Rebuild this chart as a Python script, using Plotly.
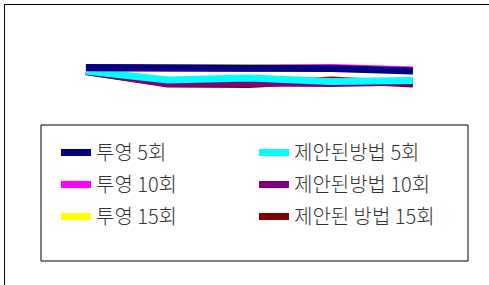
import plotly.graph_objects as go

frames = [1, 2, 3, 4, 5]

proj5 = [41.75, 41.75, 41.75, 41.65, 41.40]
proj10 = [41.70, 41.65, 41.65, 41.75, 41.50]
proj15 = [41.75, 41.70, 41.70, 41.70, 41.45]
prop5 = [41.40, 40.50, 40.70, 40.35, 40.45]
prop10 = [41.35, 40.15, 40.20, 40.15, 40.30]
prop15 = [41.35, 40.10, 40.05, 40.50, 40.10]

names = ["투영 5회", "투영 10회", "투영 15회", "제안된방법 5회", "제안된방법 10회", "제안된 방법 15회"]
colors = ["#000080", "#FF00FF", "#FFFF00", "#00FFFF", "#800080", "#800000"]
series = [proj5, proj10, proj15, prop5, prop10, prop15]
legends = ["legend", "legend", "legend", "legend2", "legend2", "legend2"]
ranks = [1, 2, 3, 1, 2, 3]

draw_order = [5, 4, 3, 2, 1, 0]

fig = go.Figure()
for i in draw_order:
    fig.add_trace(go.Scatter(
        x=frames, y=series[i], mode="lines", name=names[i],
        line=dict(color=colors[i], width=7),
        legend=legends[i], legendrank=ranks[i], legendgroup=names[i],
    ))

W, H = 489, 285
L, T = 5, 5
pw, ph = W - L, H - T

def px(x):
    return (x - L) / pw

def py(y):
    return 1 - (y - T) / ph

font = dict(family="Noto Sans CJK KR", size=20, color="#333333", weight=300)

fig.update_layout(
    width=W, height=H,
    margin=dict(l=L, r=0, t=T, b=0),
    paper_bgcolor="white", plot_bgcolor="white",
    xaxis=dict(range=[0.01, 5.93], side="top", showline=True, linecolor="black", linewidth=1,
               showgrid=False, zeroline=False, showticklabels=False, ticks=""),
    yaxis=dict(range=[20, 48], showline=True, linecolor="black", linewidth=1,
               showgrid=False, zeroline=False, showticklabels=False, ticks=""),
    legend=dict(x=px(56), y=py(133), xanchor="left", yanchor="top", font=font,
                bgcolor="rgba(0,0,0,0)", borderwidth=0, tracegroupgap=3,
                orientation="v"),
    legend2=dict(x=px(254), y=py(133), xanchor="left", yanchor="top", font=font,
                 bgcolor="rgba(0,0,0,0)", borderwidth=0, tracegroupgap=3,
                 orientation="v"),
    shapes=[dict(type="rect", xref="paper", yref="paper",
                 x0=px(41), x1=px(468), y0=py(261), y1=py(125),
                 line=dict(color="black", width=1), fillcolor="rgba(0,0,0,0)")],
)

fig.write_html("out.html", config={"displayModeBar": False},
               post_script="document.body.style.margin='0';")
